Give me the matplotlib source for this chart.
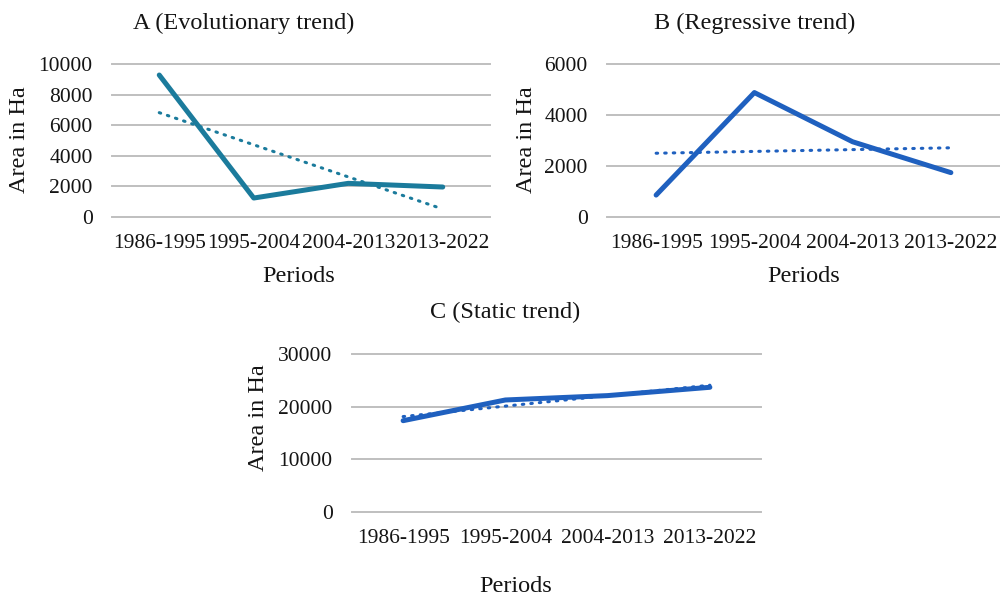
import numpy as np
import matplotlib.pyplot as plt

plt.rcParams['font.family'] = ['Liberation Serif', 'DejaVu Serif']

periods = ['1986-1995', '1995-2004', '2004-2013', '2013-2022']
area_a = [9280, 1240, 2200, 1960]
area_b = [860, 4880, 2950, 1740]
area_c = [17340, 21270, 22100, 23680]

teal = '#1b7b9c'
blue = '#1f60bf'
grid_col = '#bfbfbf'
txt = '#141414'

W, H = 1000, 596
fig = plt.figure(figsize=(10, 5.96), dpi=100)


def box(x0, x1, top, bottom):
    return [x0 / W, 1 - bottom / H, (x1 - x0) / W, (bottom - top) / H]


def panel(rect, values, color, ymax, step):
    ax = fig.add_axes(rect)
    x = np.arange(len(values))
    ax.plot(x, values, color=color, lw=3.6, solid_capstyle='round',
            solid_joinstyle='round', zorder=3)
    # linear trend line
    k, b = np.polyfit(x, values, 1)
    ax.plot(x, k * x + b, color=color, lw=2.2, linestyle=(0, (0.5, 2.3)),
            dash_capstyle='round', zorder=2)
    ax.set_xlim(-0.5, len(values) - 0.5)
    ax.set_ylim(0, ymax)
    ax.set_yticks(np.arange(0, ymax + 1, step))
    ax.set_xticks(x)
    ax.set_xticklabels(periods)
    for yv in np.arange(0, ymax + 1, step):
        ax.axhline(yv, color=grid_col, lw=1.4, zorder=1, clip_on=False)
    for s in ax.spines.values():
        s.set_visible(False)
    ax.tick_params(length=0, labelsize=15.5, labelcolor=txt)
    ax.tick_params(axis='y', pad=14)
    ax.tick_params(axis='x', pad=12)
    ax.set_facecolor('none')
    return ax


panel(box(112, 490, 64, 217), area_a, teal, 10000, 2000)
panel(box(607, 1000, 64, 217), area_b, blue, 6000, 2000)
panel(box(352, 761, 354, 512), area_c, blue, 30000, 10000)


# titles and axis labels placed in figure pixels
def label(x, y, s, rot=0, size=17.5):
    fig.text(x / W, 1 - y / H, s, ha='center', va='center', rotation=rot,
             fontsize=size, color=txt)


label(244, 23, 'A (Evolutionary trend)')
label(755, 23, 'B (Regressive trend)')
label(505, 312, 'C (Static trend)')

label(299, 276, 'Periods')
label(804, 276, 'Periods')
label(516, 586, 'Periods')

label(20, 140, 'Area in Ha', rot=90)
label(527, 140, 'Area in Ha', rot=90)
label(258, 418, 'Area in Ha', rot=90)

fig.savefig('out.png', dpi=100)
